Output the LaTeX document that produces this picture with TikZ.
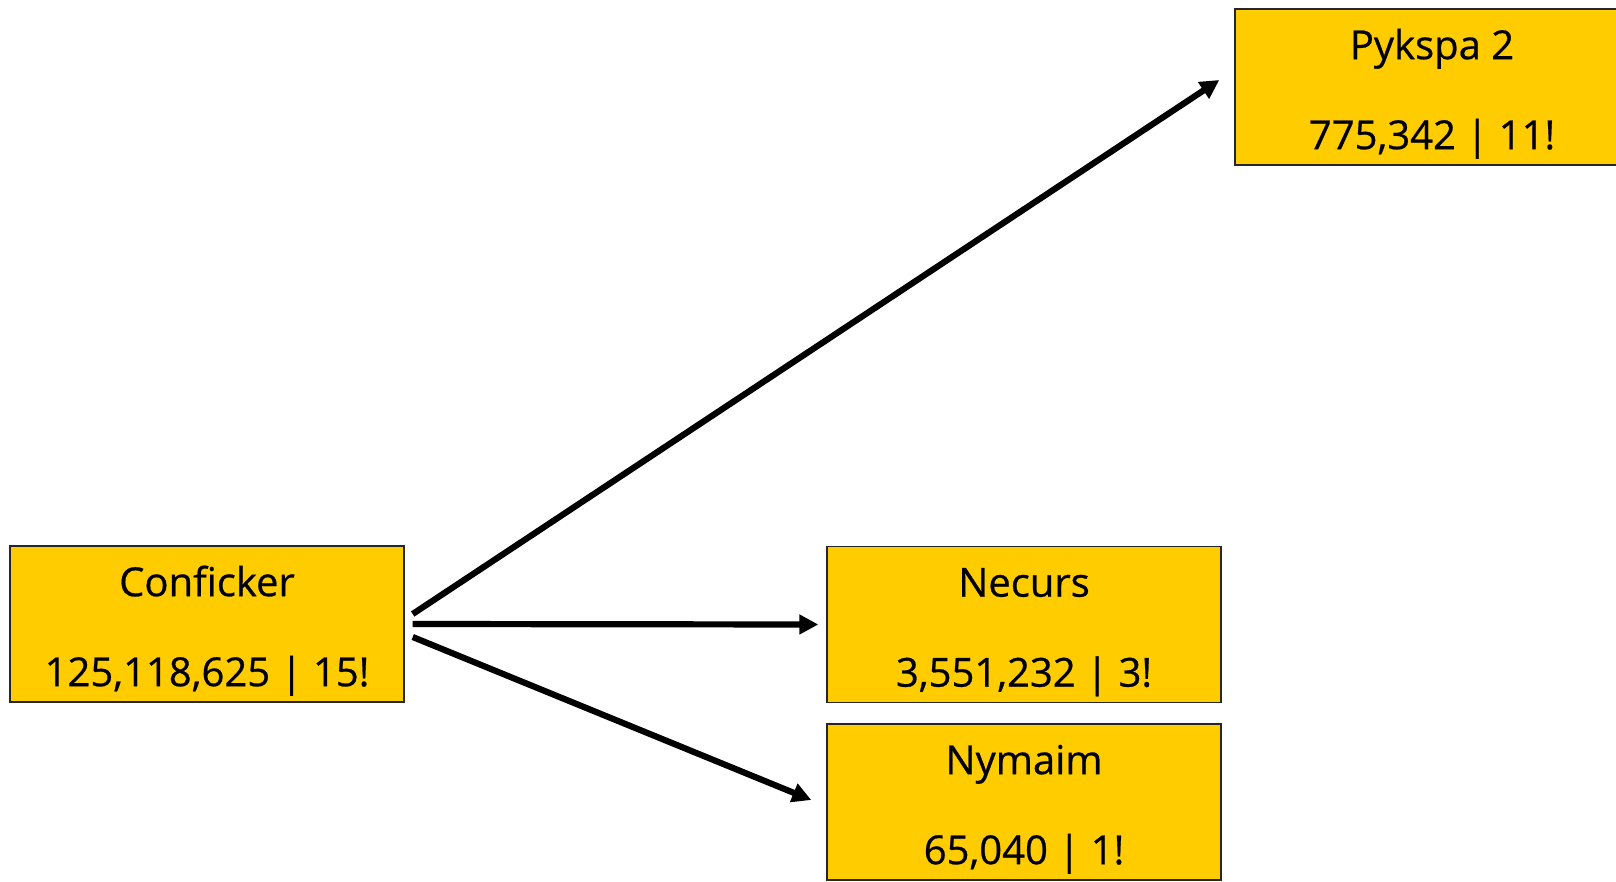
\documentclass[tikz,border=0pt]{standalone}
\usepackage{fontspec}
\setmainfont{Open Sans}[FakeBold=0.6]
\usetikzlibrary{arrows.meta}
\definecolor{boxyellow}{HTML}{FFCC00}
\newcommand{\toppad}{\rule{0pt}{44pt}}
\begin{document}
\begin{tikzpicture}[x=1pt,y=-1pt,
  familybox/.style={draw=black!85, line width=1.4pt, fill=boxyellow,
    minimum width=394pt, minimum height=156pt, inner sep=0pt,
    align=center, font=\fontsize{40}{90}\selectfont},
  link/.style={line width=6.2pt, -{Triangle[length=19pt,width=19pt]}}]
  \useasboundingbox (0,0) rectangle (1616,882);
  \node[familybox] (conf) at (207,624) {\toppad Conficker\\125,118,625 | 15!};
  \node[familybox] (pyk) at (1432,87) {\toppad Pykspa 2\\775,342 | 11!};
  \node[familybox] (nec) at (1024,624.5) {\toppad Necurs\\3,551,232 | 3!};
  \node[familybox] (nym) at (1024,802) {\toppad Nymaim\\65,040 | 1!};
  \draw[link] ([xshift=8pt,yshift=10pt]conf.east) -- ([xshift=-15pt,yshift=7pt]pyk.west);
  \draw[link] ([xshift=8pt]conf.east) -- ([xshift=-8pt]nec.west);
  \draw[link] ([xshift=8pt,yshift=-13pt]conf.east) -- ([xshift=-15pt,yshift=2pt]nym.west);
\end{tikzpicture}
\end{document}
